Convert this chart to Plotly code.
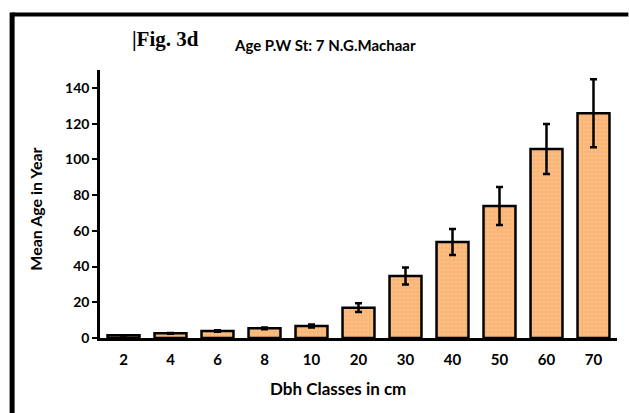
import plotly.graph_objects as go

dbh_classes = ["2", "4", "6", "8", "10", "20", "30", "40", "50", "60", "70"]
mean_age = [1.5, 2.6, 3.9, 5.4, 6.7, 17.0, 34.7, 53.7, 73.9, 105.8, 125.8]
age_err = [0.1, 0.2, 0.4, 0.5, 0.8, 2.4, 4.7, 7.3, 10.6, 14.0, 19.0]
y_ticks = [0, 20, 40, 60, 80, 100, 120, 140]

font_main = "Lato, 'Open Sans', sans-serif"

fig = go.Figure()
fig.add_trace(go.Bar(
    x=dbh_classes,
    y=mean_age,
    width=0.68,
    marker=dict(
        color="white",
        line=dict(color="black", width=2.5),
        pattern=dict(shape=".", fgcolor="#F5861F", bgcolor="#FFE6CC",
                     size=4, solidity=0.85),
    ),
    error_y=dict(type="data", array=age_err, visible=True,
                 color="black", thickness=2.5, width=3.5),
))

fig.update_layout(
    width=629, height=413,
    margin=dict(l=100, r=12, t=70, b=75),
    paper_bgcolor="white", plot_bgcolor="white",
    showlegend=False,
    font=dict(family=font_main, size=13, color="black"),
    xaxis=dict(
        type="category",
        showline=True, linecolor="black", linewidth=2.5,
        ticks="", showgrid=False,
        tickfont=dict(family=font_main, size=15, color="black", weight="bold"),
        ticklabelstandoff=6,
    ),
    yaxis=dict(
        range=[0, 150],
        tickvals=y_ticks,
        showline=True, linecolor="black", linewidth=2.5,
        ticks="outside", ticklen=5, tickwidth=2, tickcolor="black",
        showgrid=False, zeroline=False,
        tickfont=dict(family=font_main, size=14, color="black", weight="bold"),
    ),
    shapes=[
        dict(type="line", xref="paper", yref="paper",
             x0=-0.17, x1=1.022, y0=1.207, y1=1.207,
             line=dict(color="black", width=4)),
        dict(type="line", xref="paper", yref="paper",
             x0=-0.17, x1=-0.17, y0=1.215, y1=-0.3,
             line=dict(color="black", width=5)),
    ],
    annotations=[
        dict(text="|Fig. 3d", xref="paper", yref="paper", x=0.058, y=1.115,
             xanchor="left", yanchor="middle", showarrow=False,
             font=dict(family="'Liberation Serif', serif", size=21,
                       color="black", weight="bold")),
        dict(text="Age P.W St: 7 N.G.Machaar", xref="paper", yref="paper",
             x=0.255, y=1.095, xanchor="left", yanchor="middle", showarrow=False,
             font=dict(family=font_main, size=15, color="black", weight="bold")),
        dict(text="Mean Age in Year", xref="paper", yref="paper",
             x=-0.125, y=0.48, xanchor="center", yanchor="middle",
             textangle=-90, showarrow=False,
             font=dict(family=font_main, size=16, color="black", weight="bold")),
        dict(text="Dbh Classes in cm", xref="paper", yref="paper",
             x=0.46, y=-0.19, xanchor="center", yanchor="middle",
             showarrow=False,
             font=dict(family=font_main, size=17, color="black", weight="bold")),
    ],
)

fig.write_html(
    "out.html",
    config={"displayModeBar": False},
    post_script="document.body.style.margin='0';document.body.style.overflow='hidden';",
)
